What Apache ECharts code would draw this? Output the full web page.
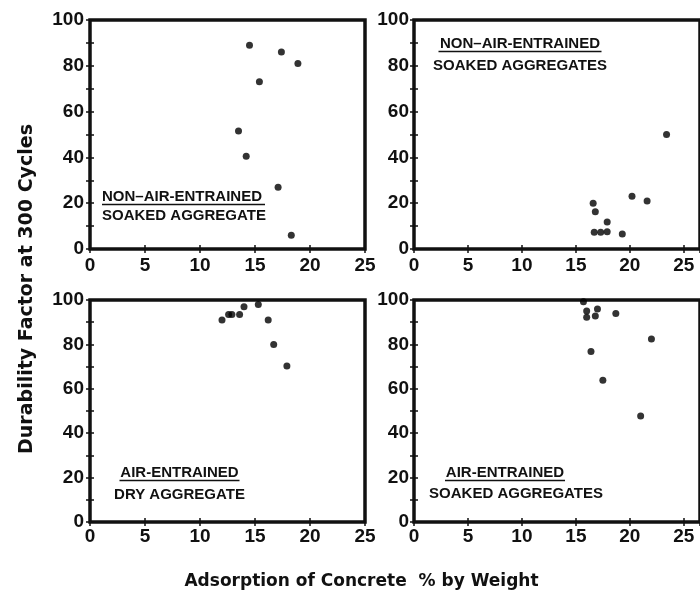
<!DOCTYPE html>
<html>
<head>
<meta charset="utf-8">
<script src="https://cdn.jsdelivr.net/npm/echarts@6/dist/echarts.min.js"></script>
<style>
  html, body { margin: 0; padding: 0; background: #fff; }
  #chart { width: 700px; height: 597px; }
</style>
</head>
<body>
<div id="chart"></div>
<script>
// Durability factor after 300 freeze-thaw cycles vs. concrete adsorption (% by weight)

// Panel A: non-air-entrained, soaked aggregate
const naSoakedX = [14.5, 17.4, 18.9, 15.4, 13.5, 14.2, 17.1, 18.3];
const naSoakedY = [89, 86, 81, 73, 51.5, 40.5, 27, 6];

// Panel B: non-air-entrained, soaked aggregates
const naSoakedBX = [23.4, 20.2, 21.6, 16.6, 16.8, 17.9, 16.7, 17.3, 17.9, 19.3];
const naSoakedBY = [50, 23, 21, 20, 16.3, 11.8, 7.3, 7.3, 7.5, 6.5];

// Panel C: air-entrained, dry aggregate
const aeDryX = [12.0, 12.6, 12.9, 13.6, 14.0, 15.3, 16.2, 16.7, 17.9];
const aeDryY = [91, 93.5, 93.5, 93.5, 97, 98, 91, 80, 70.3];

// Panel D: air-entrained, soaked aggregates
const aeSoakedX = [15.7, 16.0, 16.0, 16.8, 17.0, 18.7, 22.0, 16.4, 17.5, 21.0];
const aeSoakedY = [99.2, 95, 92.2, 92.8, 96, 93.9, 82.4, 76.8, 63.8, 47.8];

const yTicks = [0, 20, 40, 60, 80, 100];
const xTicks = [0, 5, 10, 15, 20, 25];

const panelLabels = [
  ['NON\u2013AIR-ENTRAINED', 'SOAKED AGGREGATE'],
  ['NON\u2013AIR-ENTRAINED', 'SOAKED AGGREGATES'],
  ['AIR-ENTRAINED', 'DRY AGGREGATE'],
  ['AIR-ENTRAINED', 'SOAKED AGGREGATES']
];
const yTitle = 'Durability Factor at 300 Cycles';
const xTitle = 'Adsorption of Concrete  % by Weight';

const INK = '#111111';
const tickFont = '"Liberation Sans", Arial, sans-serif';

// grid placement of the four panels
const grids = [
  { left: 90,  top: 20,  width: 275,   height: 229, xMax: 25,   xMargin: 7, yMargin: 6 },
  { left: 414, top: 20,  width: 291.5, height: 229, xMax: 26.5, xMargin: 7, yMargin: 5 },
  { left: 90,  top: 300, width: 275,   height: 222, xMax: 25,   xMargin: 5, yMargin: 6 },
  { left: 414, top: 300, width: 291.5, height: 222, xMax: 26.5, xMargin: 5, yMargin: 5 }
];
const panelData = [
  [naSoakedX, naSoakedY],
  [naSoakedBX, naSoakedBY],
  [aeDryX, aeDryY],
  [aeSoakedX, aeSoakedY]
];

const tickStyle = { show: true, inside: true, length: 4, lineStyle: { color: INK, width: 1.5 } };
const labelStyle = { color: INK, fontFamily: tickFont, fontWeight: 'bold', fontSize: 19 };

const option = {
  animation: false,
  backgroundColor: '#ffffff',
  grid: [], xAxis: [], yAxis: [], series: [], graphic: []
};

grids.forEach((g, i) => {
  option.grid.push({
    left: g.left, top: g.top, width: g.width, height: g.height,
    show: true, borderColor: INK, borderWidth: 3.5, backgroundColor: 'transparent'
  });
  const xBase = {
    gridIndex: i, type: 'value', min: 0, max: g.xMax, interval: 5,
    axisLine: { show: false }, splitLine: { show: false }, axisTick: tickStyle
  };
  option.xAxis.push(Object.assign({}, xBase, {
    position: 'bottom',
    axisLabel: Object.assign({}, labelStyle, {
      margin: g.xMargin,
      showMaxLabel: g.xMax === 25,
      formatter: v => (xTicks.indexOf(v) >= 0 ? String(v) : '')
    })
  }));
  option.xAxis.push(Object.assign({}, xBase, { position: 'top', axisLabel: { show: false } }));

  const yBase = {
    gridIndex: i, type: 'value', min: 0, max: 100, interval: 10,
    axisLine: { show: false }, splitLine: { show: false }, axisTick: tickStyle
  };
  option.yAxis.push(Object.assign({}, yBase, {
    position: 'left',
    axisLabel: Object.assign({}, labelStyle, {
      margin: g.yMargin,
      formatter: v => (yTicks.indexOf(v) >= 0 ? String(v) : '')
    })
  }));
  option.yAxis.push(Object.assign({}, yBase, { position: 'right', axisLabel: { show: false } }));

  const [xs, ys] = panelData[i];
  option.series.push({
    type: 'scatter',
    xAxisIndex: i * 2,
    yAxisIndex: i * 2,
    symbol: 'circle',
    symbolSize: 7,
    itemStyle: { color: '#000000' },
    data: xs.map((x, k) => [x, ys[k]])
  });
});

// panel captions (first line underlined)
const captionFont = 'bold 15px "Liberation Sans", Arial, sans-serif';
const captions = [
  { x: 102,   align: 'left',   y1: 197, y2: 216, ux1: 102,   ux2: 265 },
  { x: 520,   align: 'center', y1: 44,  y2: 66,  ux1: 438.5, ux2: 601.5 },
  { x: 179.5, align: 'center', y1: 473, y2: 495, ux1: 119.5, ux2: 239.5 },
  { x: 505,   align: 'center', y1: 473, y2: 494, ux1: 445,   ux2: 565, x2: 516 }
];
captions.forEach((c, i) => {
  const [l1, l2] = panelLabels[i];
  option.graphic.push({
    type: 'text', x: c.x, y: c.y1, silent: true,
    style: { text: l1, font: captionFont, fill: INK, textAlign: c.align, align: c.align,
             textVerticalAlign: 'middle', verticalAlign: 'middle' }
  });
  option.graphic.push({
    type: 'line', silent: true,
    shape: { x1: c.ux1, y1: c.y1 + 7.5, x2: c.ux2, y2: c.y1 + 7.5 },
    style: { stroke: INK, lineWidth: 1.5 }
  });
  option.graphic.push({
    type: 'text', x: c.x2 !== undefined ? c.x2 : c.x, y: c.y2, silent: true,
    style: { text: l2, font: captionFont, fill: INK, textAlign: c.align, align: c.align,
             textVerticalAlign: 'middle', verticalAlign: 'middle' }
  });
});

// shared axis titles
option.graphic.push({
  type: 'text', x: 27, y: 289, rotation: Math.PI / 2, silent: true,
  style: { text: yTitle, font: 'bold 19px "DejaVu Sans", sans-serif', fill: INK,
           textAlign: 'center', align: 'center', textVerticalAlign: 'middle', verticalAlign: 'middle' }
});
option.graphic.push({
  type: 'text', x: 361.5, y: 582, silent: true,
  style: { text: xTitle, font: 'bold 17px "DejaVu Sans", sans-serif', fill: INK,
           textAlign: 'center', align: 'center', textVerticalAlign: 'middle', verticalAlign: 'middle' }
});

const chart = echarts.init(document.getElementById('chart'), null, { renderer: 'canvas' });
chart.setOption(option);
</script>
</body>
</html>
